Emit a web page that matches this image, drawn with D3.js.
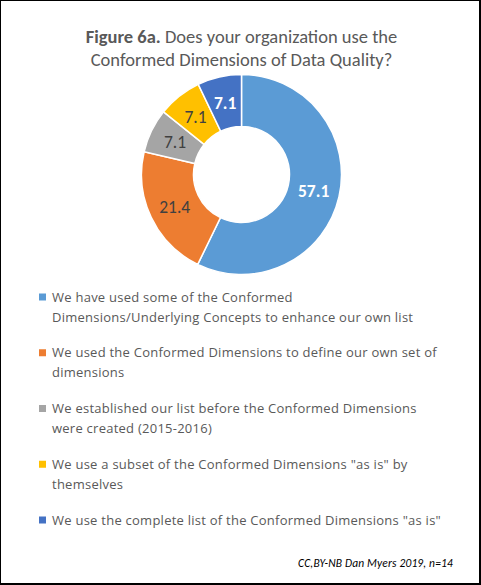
<!DOCTYPE html>
<html>
<head>
<meta charset="utf-8">
<script src="https://cdn.jsdelivr.net/npm/d3@7"></script>
<style>
  body { margin: 0; background: #fff; }
  svg { display: block; font-family: Calibri, Carlito, Lato, "Open Sans", sans-serif; }
</style>
</head>
<body>
<svg id="chart" width="481" height="585"></svg>
<script>
// Categories (legend labels, line breaks as in the original)
var categories = [
  'We have used some of the Conformed\nDimensions/Underlying Concepts to enhance our own list',
  'We used the Conformed Dimensions to define our own set of\ndimensions',
  'We established our list before the Conformed Dimensions\nwere created (2015-2016)',
  'We use a subset of the Conformed Dimensions "as is" by\nthemselves',
  'We use the complete list of the Conformed Dimensions "as is"'
];
// Percent of respondents
var values = [57.1, 21.4, 7.1, 7.1, 7.1];
var colors = ['#5B9BD5', '#ED7D31', '#A5A5A5', '#FFC000', '#4472C4'];
var labelColors = ['#ffffff', '#404040', '#404040', '#404040', '#ffffff'];

var svg = d3.select('#chart');
var W = 481, H = 585;

// Frame with a slightly heavier right/bottom edge
svg.append('rect').attr('x', 0.5).attr('y', 0.5).attr('width', W - 2).attr('height', H - 2)
  .attr('fill', '#fff').attr('stroke', '#000').attr('stroke-width', 1);
svg.append('line').attr('x1', W - 1).attr('x2', W - 1).attr('y1', 0).attr('y2', H)
  .attr('stroke', '#000').attr('stroke-width', 2);
svg.append('line').attr('x1', 0).attr('x2', W).attr('y1', H - 1).attr('y2', H - 1)
  .attr('stroke', '#000').attr('stroke-width', 2);

// Title
var title = svg.append('text')
  .attr('text-anchor', 'middle')
  .attr('fill', '#595959')
  .style('font-size', '18.5px');
var t1 = title.append('tspan').attr('x', 241.5).attr('y', 43);
t1.append('tspan').attr('font-weight', 'bold').text('Figure 6a.');
t1.append('tspan').text(' Does your organization use the');
title.append('tspan').attr('x', 241.5).attr('y', 66).text('Conformed Dimensions of Data Quality?');

// Donut
var cx = 241.5, cy = 174.5, rOuter = 100, rInner = 48;
var pie = d3.pie().sort(null).value(function (d) { return d; });
var arc = d3.arc().innerRadius(rInner).outerRadius(rOuter);
var labelArc = d3.arc().innerRadius((rInner + rOuter) / 2).outerRadius((rInner + rOuter) / 2);

var g = svg.append('g').attr('transform', 'translate(' + cx + ',' + cy + ')');
var slices = g.selectAll('.slice')
  .data(pie(values))
  .enter().append('g').attr('class', 'slice');

slices.append('path')
  .attr('d', arc)
  .attr('fill', function (d, i) { return colors[i]; })
  .attr('stroke', '#fff')
  .attr('stroke-width', 1.5);

slices.append('text')
  .attr('transform', function (d) { return 'translate(' + labelArc.centroid(d) + ')'; })
  .attr('text-anchor', 'middle')
  .attr('dy', '0.36em')
  .attr('fill', function (d, i) { return labelColors[i]; })
  .attr('font-weight', function (d, i) { return labelColors[i] === '#ffffff' ? 'bold' : 'normal'; })
  .style('font-size', '17.5px')
  .text(function (d) { return d3.format('.1f')(d.data); });

// Legend
var legendY = d3.scalePoint().domain(d3.range(categories.length)).range([297, 520]);
var legend = svg.selectAll('.legend')
  .data(categories)
  .enter().append('g').attr('class', 'legend')
  .attr('transform', function (d, i) { return 'translate(39,' + legendY(i) + ')'; });

legend.append('rect')
  .attr('x', 0).attr('y', -3.5).attr('width', 7).attr('height', 7)
  .attr('fill', function (d, i) { return colors[i]; });

legend.append('text')
  .attr('fill', '#595959')
  .style('font-family', '"Open Sans", Lato, sans-serif')
  .style('font-size', '13px')
  .style('letter-spacing', '0.25px')
  .selectAll('tspan')
  .data(function (d) { return d.split('\n'); })
  .enter().append('tspan')
  .attr('x', 13)
  .attr('y', function (d, j) { return j * 20; })
  .attr('dy', '0.36em')
  .text(function (d) { return d; });

// Source note
svg.append('text')
  .attr('x', 453).attr('y', 567)
  .attr('text-anchor', 'end')
  .attr('fill', '#000')
  .attr('font-style', 'italic')
  .style('font-size', '11.5px')
  .style('letter-spacing', '0.15px')
  .text('CC,BY-NB Dan Myers 2019, n=14');
</script>
</body>
</html>
